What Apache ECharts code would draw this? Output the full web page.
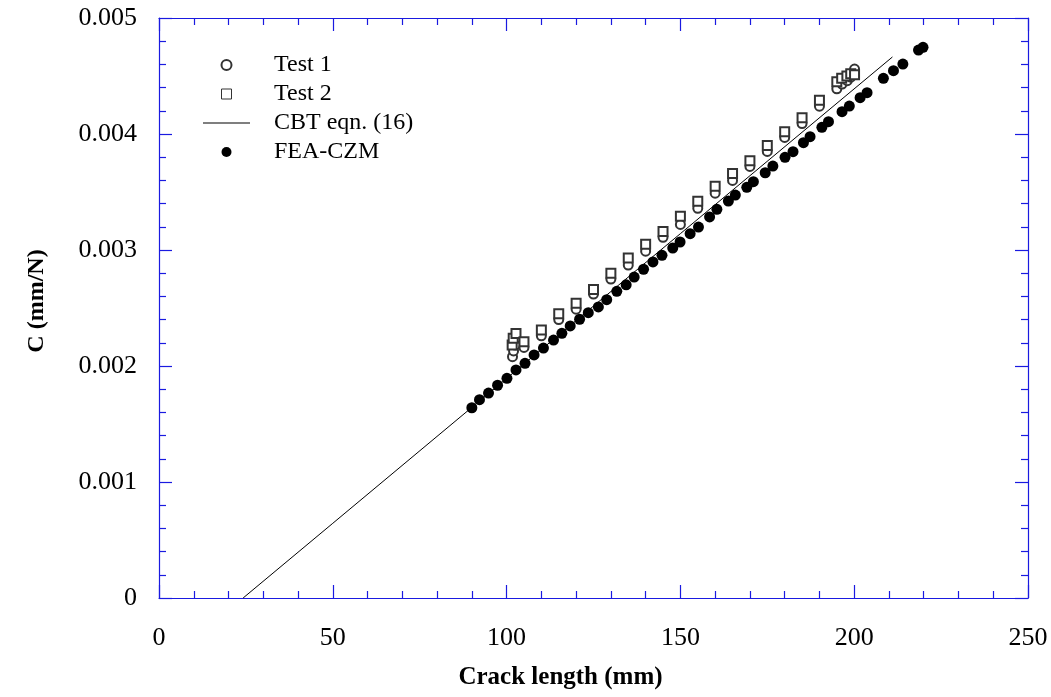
<!DOCTYPE html>
<html>
<head>
<meta charset="utf-8">
<script src="https://cdn.jsdelivr.net/npm/echarts@6/dist/echarts.min.js"></script>
<style>
  html, body { margin: 0; padding: 0; background: #fff; }
  #chart { width: 1051px; height: 697px; }
</style>
</head>
<body>
<div id="chart"></div>
<script>
// values: [crack length (mm), C (mm/N)]
var test1 = [
  [101.7, 0.00208], [102.0, 0.00213], [102.5, 0.00218], [105, 0.00216],
  [110, 0.00226], [115, 0.00240], [120, 0.00249], [125, 0.00262],
  [130, 0.00275], [135, 0.00287], [140, 0.00299], [145, 0.00311],
  [150, 0.00322], [155, 0.00336], [160, 0.00349], [165, 0.00360],
  [170, 0.00372], [175, 0.00385], [180, 0.00397], [185, 0.00409],
  [190, 0.00424], [195, 0.00439], [196.5, 0.00443], [198, 0.00446],
  [199, 0.00449], [200.1, 0.00456]
]
var test2 = [
  [101.6, 0.00218], [101.9, 0.00224], [102.7, 0.00228], [105, 0.00221],
  [110, 0.00231], [115, 0.00245], [120, 0.00254], [125, 0.00266],
  [130, 0.00280], [135, 0.00293], [140, 0.00305], [145, 0.00316],
  [150, 0.00329], [155, 0.00342], [160, 0.00355], [165, 0.00366],
  [170, 0.00377], [175, 0.00390], [180, 0.00402], [185, 0.00414],
  [190, 0.00429], [195, 0.00445], [196.4, 0.00448], [197.9, 0.00450],
  [199, 0.00452], [200.1, 0.00451]
]
var cbt = [
  [24.2, 0], [50, 0.000644], [100, 0.001893], [150, 0.003141], [211, 0.004664]
]
var fea = [
  [90.0, 0.001640], [92.2, 0.001710], [94.8, 0.001767], [97.4, 0.001834],
  [100.1, 0.001894], [102.7, 0.001966], [105.3, 0.002023], [107.9, 0.002095],
  [110.6, 0.002155], [113.5, 0.002224], [115.9, 0.002282], [118.3, 0.002345],
  [121.0, 0.002403], [123.5, 0.002460], [126.4, 0.002509], [128.8, 0.002572],
  [131.7, 0.002644], [134.4, 0.002700], [136.7, 0.002767], [139.4, 0.002834],
  [142.1, 0.002897], [144.7, 0.002954], [147.8, 0.003017], [149.9, 0.003069],
  [152.8, 0.003141], [155.2, 0.003198], [158.4, 0.003285], [160.5, 0.003351],
  [163.8, 0.003422], [165.8, 0.003474], [169.1, 0.003540], [171.0, 0.003589],
  [174.4, 0.003666], [176.6, 0.003724], [180.1, 0.003799], [182.4, 0.003848],
  [185.4, 0.003925], [187.3, 0.003977], [190.7, 0.004058], [192.6, 0.004106],
  [196.5, 0.004192], [198.6, 0.004241], [201.7, 0.004313], [203.7, 0.004356],
  [208.4, 0.004480], [211.3, 0.004546], [214.0, 0.004603], [218.5, 0.004724],
  [219.8, 0.004747]
]
var seriesNames = ['Test 1', 'Test 2', 'CBT eqn. (16)', 'FEA-CZM']

var font = 'Liberation Serif'
var axisBlue = '#1a1ae0'
var markerGrey = '#333'

function frameAxis (pos, isY) {
  return {
    type: 'value',
    position: pos,
    min: 0,
    max: isY ? 0.005 : 250,
    interval: isY ? 0.001 : 50,
    splitNumber: 5,
    axisLine: { show: true, onZero: false, lineStyle: { color: axisBlue, width: 1.2 } },
    axisTick: { show: true, inside: true, length: 13, lineStyle: { color: axisBlue, width: 1.2 } },
    minorTick: { show: true, splitNumber: 5, length: 7, lineStyle: { color: axisBlue, width: 1.2 } },
    splitLine: { show: false },
    axisLabel: { show: false }
  }
}

var xMain = frameAxis('bottom', false)
xMain.name = 'Crack length (mm)'
xMain.nameLocation = 'middle'
xMain.nameGap = 67
xMain.nameTextStyle = { fontFamily: font, fontWeight: 'bold', fontSize: 25, color: '#000', padding: [0, 66, 0, 0] }
xMain.axisLabel = { show: true, margin: 27, fontFamily: font, fontSize: 26, color: '#000' }
var xTop = frameAxis('top', false)

var yMain = frameAxis('left', true)
yMain.name = 'C (mm/N)'
yMain.nameLocation = 'middle'
yMain.nameGap = 110
yMain.nameTextStyle = { fontFamily: font, fontWeight: 'bold', fontSize: 24, color: '#000', padding: [0, 0, 0, 14] }
yMain.axisLabel = {
  show: true, margin: 22, fontFamily: font, fontSize: 26, color: '#000',
  formatter: function (v) { return v === 0 ? '0' : v.toFixed(3) }
}
var yRight = frameAxis('right', true)

var chart = echarts.init(document.getElementById('chart'))
chart.setOption({
  animation: false,
  grid: { left: 159, right: 23, top: 18, bottom: 99 },
  legend: {
    orient: 'vertical',
    left: 198,
    top: 48,
    itemWidth: 47,
    itemHeight: 10,
    itemGap: 5,
    data: [
      { name: seriesNames[0] },
      {
        name: seriesNames[1],
        icon: 'path://M0,0H10V10H0Z',
        itemStyle: { color: '#fff', borderColor: markerGrey, borderWidth: 1 }
      },
      {
        name: seriesNames[2],
        icon: 'path://M0,0H47V1H0Z',
        itemStyle: { color: '#000' }
      },
      { name: seriesNames[3] }
    ],
    textStyle: { fontFamily: font, fontSize: 24, lineHeight: 24, color: '#000', padding: [0, 0, 0, 19] }
  },
  xAxis: [xMain, xTop],
  yAxis: [yMain, yRight],
  series: [
    {
      name: seriesNames[0],
      type: 'scatter',
      symbol: 'emptyCircle',
      symbolSize: 9,
      itemStyle: { color: markerGrey, borderWidth: 1, opacity: 1 },
      data: test1
    },
    {
      name: seriesNames[1],
      type: 'scatter',
      symbol: 'emptyRect',
      symbolSize: 9,
      itemStyle: { color: markerGrey, borderWidth: 1, opacity: 1 },
      data: test2
    },
    {
      name: seriesNames[2],
      type: 'line',
      symbol: 'none',
      lineStyle: { color: '#000', width: 1 },
      itemStyle: { color: '#000' },
      data: cbt
    },
    {
      name: seriesNames[3],
      type: 'scatter',
      symbol: 'circle',
      symbolSize: 11,
      itemStyle: { color: '#000', opacity: 1 },
      data: fea
    }
  ]
})
</script>
</body>
</html>
